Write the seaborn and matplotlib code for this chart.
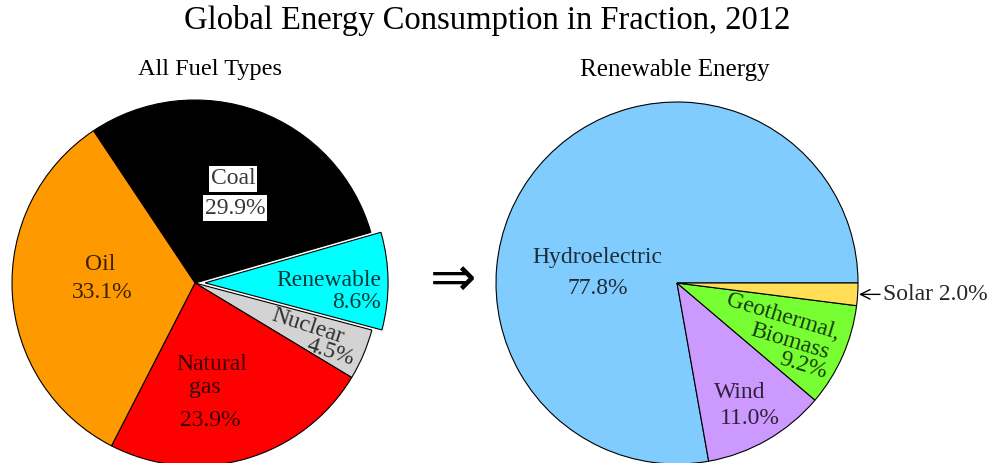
"""Global energy consumption in fraction, 2012 - two pie charts"""
import numpy as np
import matplotlib
matplotlib.use('Agg')
import matplotlib.pyplot as plt
import seaborn as sns

sns.set_theme(style='white')
plt.rcParams['font.family'] = ['Liberation Serif', 'DejaVu Serif', 'DejaVu Sans']

# data
fuel_names = ['Coal', 'Renewable', 'Nuclear', 'Natural gas', 'Oil']
fuel_values = [29.9, 8.6, 4.5, 23.9, 33.1]
fuel_colors = ['#000000', '#00FFFF', '#D3D3D3', '#FF0000', '#FF9900']

renew_names = ['Hydroelectric', 'Wind', 'Geothermal, Biomass', 'Solar']
renew_values = [77.8, 11.0, 9.2, 2.0]
renew_colors = ['#80CCFF', '#CC99FF', '#77FF33', '#FFDD55']

W, H = 995, 463
fig = plt.figure(figsize=(W / 100, H / 100), dpi=100)
fig.patch.set_facecolor('white')


def pie_axes(cx, cy, r, lim=1.3):
    """轴中心放在像素 (cx, cy)，饼半径 r 像素"""
    half = r * lim
    ax = fig.add_axes([(cx - half) / W, (H - cy - half) / H, 2 * half / W, 2 * half / H])
    return ax, lim


def px(x, y):
    return x / W, 1 - y / H


# 左图：全部燃料
ax1, lim = pie_axes(195, 283, 183)
explode = [0.055 if n == 'Renewable' else 0 for n in fuel_names]
ax1.pie(fuel_values, colors=fuel_colors, explode=explode, startangle=123.7,
        counterclock=False, wedgeprops=dict(edgecolor='black', linewidth=0.8))
ax1.set_xlim(-lim, lim)
ax1.set_ylim(-lim, lim)
ax1.axis('off')

# 右图：可再生能源
ax2, lim = pie_axes(677, 283, 181)
ax2.pie(renew_values, colors=renew_colors, startangle=0, counterclock=True,
        wedgeprops=dict(edgecolor='black', linewidth=0.8))
ax2.set_xlim(-lim, lim)
ax2.set_ylim(-lim, lim)
ax2.axis('off')

lab = dict(fontsize=17, color='black', alpha=0.78, ha='center', va='center')

# 左图标签
box = dict(facecolor='white', edgecolor='none', pad=1.5)
fig.text(*px(233, 179), 'Coal', bbox=box, **lab)
fig.text(*px(235, 208), f'{fuel_values[0]}%', bbox=box, **lab)
fig.text(*px(100, 265), 'Oil', **lab)
fig.text(*px(102, 293), f'{fuel_values[4]}%', **lab)
fig.text(*px(381, 280), 'Renewable', **{**lab, 'ha': 'right'})
fig.text(*px(381, 302), f'{fuel_values[1]}%', **{**lab, 'ha': 'right'})
fig.text(*px(308, 326), 'Nuclear', rotation=-18, **lab)
fig.text(*px(330, 352), f'{fuel_values[2]}%', rotation=-18, **lab)
fig.text(*px(212, 365), 'Natural', **lab)
fig.text(*px(205, 388), 'gas', **lab)
fig.text(*px(210, 420), f'{fuel_values[3]}%', **lab)

# 右图标签
fig.text(*px(597, 258), 'Hydroelectric', **lab)
fig.text(*px(598, 288), f'{renew_values[0]}%', **lab)
fig.text(*px(740, 392), 'Wind', **lab)
fig.text(*px(750, 419), f'{renew_values[1]}%', **lab)
fig.text(*px(783, 317), 'Geothermal,', rotation=-17, **lab)
fig.text(*px(790, 342), 'Biomass', rotation=-17, **lab)
fig.text(*px(803, 366), f'{renew_values[2]}%', rotation=-17, **lab)

# Solar 注释箭头
mid = np.deg2rad(-renew_values[3] / 100 * 360 / 2)
ax2.annotate(f'Solar {renew_values[3]}%', xy=(np.cos(mid), np.sin(mid)),
             xytext=(1.14, np.sin(mid)), ha='left', va='center', fontsize=17,
             color='black', alpha=0.85,
             arrowprops=dict(arrowstyle='->', color='black', lw=1.0,
                             shrinkA=0, shrinkB=1), annotation_clip=False)

# 标题
fig.text(*px(487, 20), 'Global Energy Consumption in Fraction, 2012',
         fontsize=23.5, ha='center', va='center', color='black')
fig.text(*px(210, 70), 'All Fuel Types', fontsize=17.5, ha='center', va='center', color='black')
fig.text(*px(675, 70), 'Renewable Energy', fontsize=18, ha='center', va='center', color='black')
fig.text(*px(453, 281), '\u21D2', fontsize=40, ha='center', va='center', color='black',
         family=['DejaVu Sans'])

fig.savefig('out.png', dpi=100, facecolor='white')
plt.close(fig)
